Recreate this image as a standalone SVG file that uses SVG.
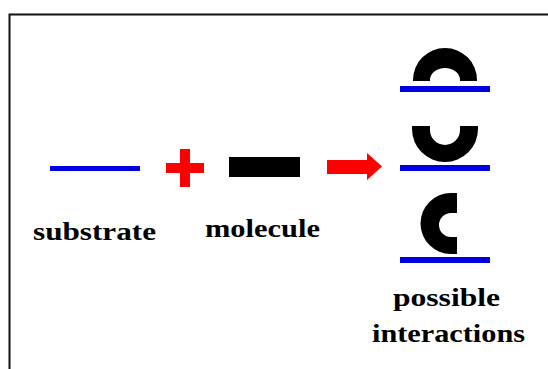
<svg xmlns="http://www.w3.org/2000/svg" width="548" height="369" viewBox="0 0 548 369">
<style>
.sub{fill:#0000e0}
.blk{fill:#000}
.red{fill:#ff0000}
.lbl{font-family:"Liberation Serif","Times New Roman",serif;font-weight:bold;font-size:25px;fill:#000}
</style>
<rect x="0" y="0" width="548" height="369" fill="#fff"/>
<rect x="9.5" y="14.5" width="560" height="400" fill="none" stroke="#111" stroke-width="2"/>
<g id="substrate">
<rect class="sub" x="50" y="166" width="90" height="5"/>
<text class="lbl" x="33" y="240" textLength="123" lengthAdjust="spacingAndGlyphs">substrate</text>
</g>
<g id="plus">
<rect class="red" x="180" y="149" width="10" height="38"/>
<rect class="red" x="166" y="163" width="38" height="10"/>
</g>
<g id="molecule">
<rect class="blk" x="229" y="157" width="71" height="20"/>
<text class="lbl" x="205" y="237" textLength="115" lengthAdjust="spacingAndGlyphs">molecule</text>
</g>
<g id="connectors">
<polygon class="red" points="327,160 367,160 367,153 382,166.5 367,180 367,174 327,174"/>
</g>
<g id="interaction1">
<path class="blk" d="M413,81 L413,80 A32,32 0 0 1 477,80 L477,81 L460,81 L460,80 A15,12 0 0 0 430,80 L430,81 Z"/>
<rect class="sub" x="400" y="86" width="90" height="6"/>
</g>
<g id="interaction2">
<path class="blk" d="M412,126 L412,129 A33,33 0 0 0 478,129 L478,126 L460,126 L460,130 A15,15 0 0 1 430,130 L430,126 Z"/>
<rect class="sub" x="400" y="165" width="90" height="6"/>
</g>
<g id="interaction3">
<path class="blk" d="M457,193 L451,193 A30.5,30.5 0 0 0 451,254 L457,254 L457,237 L451,237 A12,12 0 0 1 451,213 L457,213 Z"/>
<rect class="sub" x="400" y="257" width="90" height="6"/>
</g>
<g id="label-interactions">
<text class="lbl" x="393" y="306" textLength="107" lengthAdjust="spacingAndGlyphs">possible</text>
<text class="lbl" x="372" y="342" textLength="153" lengthAdjust="spacingAndGlyphs">interactions</text>
</g>
</svg>
